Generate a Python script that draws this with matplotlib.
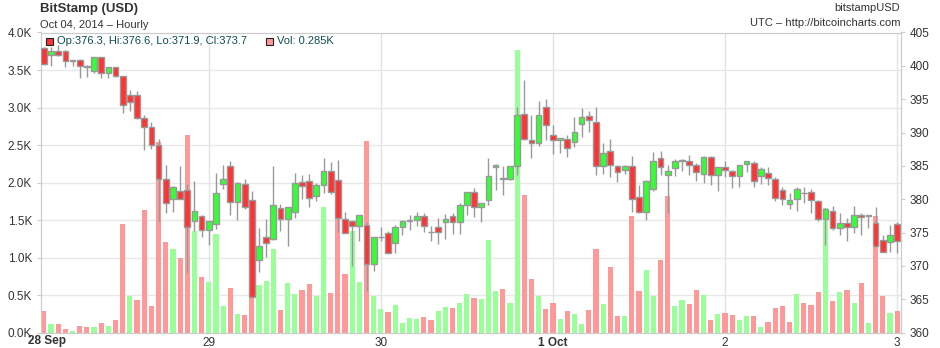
import numpy as np
import matplotlib
matplotlib.use("Agg")
import matplotlib.pyplot as plt
from matplotlib.patches import Rectangle

plt.rcParams['font.family'] = ['Liberation Sans', 'DejaVu Sans']

# hourly candles, 28 Sep 01:00 -> 3 Oct 00:00 (hour index 1..120)
opens = [402.7, 401.7, 402.3, 402.3, 400.8, 400.9, 400.0, 399.2, 401.3, 398.95, 399.8, 398.45,
         395.7, 395.6, 392.2, 390.85, 388.1, 383.0, 380.05, 381.3, 381.45, 376.8, 377.55, 375.45,
         376.3, 382.3, 384.95, 379.6, 382.3, 379.95, 370.95, 374.35, 374.05, 378.7, 377.05, 378.1,
         382.6, 382.8, 380.45, 382.2, 384.3, 382.95, 377.1, 376.7, 376.05, 376.1, 370.3, 374.3,
         374.95, 373.45, 375.85, 376.8, 376.95, 377.55, 375.1, 375.8, 376.6, 377.55, 376.6, 379.1,
         381.05, 378.8, 379.95, 384.85, 383.1, 383.1, 384.95, 392.85, 388.95, 388.45, 393.8, 389.6,
         388.85, 389.05, 388.6, 391.3, 392.55, 391.6, 385.05, 387.3, 385.05, 384.45, 384.95, 380.35,
         378.1, 381.5, 386.2, 383.6, 384.7, 385.7, 385.8, 385.2, 383.85, 386.3, 383.7, 384.8,
         384.3, 383.55, 385.3, 385.45, 383.55, 383.95, 383.1, 381.45, 379.35, 380.05, 380.95, 381.05,
         379.8, 377.05, 378.2, 375.7, 376.45, 375.85, 377.7, 377.5, 376.45, 373.95, 373.6, 376.3]
highs = [402.9, 402.9, 403.2, 402.4, 400.9, 401.0, 400.1, 401.4, 401.4, 399.9, 399.9, 398.5,
         396.4, 396.3, 392.65, 391.6, 389.0, 385.1, 382.0, 385.0, 382.3, 382.7, 377.7, 376.8,
         384.0, 385.1, 385.7, 382.6, 383.0, 381.2, 375.7, 377.05, 384.95, 379.3, 378.9, 383.95,
         383.6, 383.8, 382.5, 386.2, 385.6, 385.95, 378.1, 376.9, 377.7, 376.6, 374.4, 375.8,
         375.2, 376.1, 376.95, 377.7, 378.05, 377.9, 375.95, 377.2, 377.8, 377.95, 379.45, 381.1,
         381.7, 379.5, 386.2, 385.3, 384.95, 385.0, 393.8, 397.85, 392.6, 394.8, 395.05, 391.2,
         389.2, 389.6, 392.3, 393.7, 393.2, 393.8, 388.45, 389.05, 385.2, 385.1, 386.45, 382.1,
         382.85, 387.1, 387.2, 385.2, 386.1, 386.05, 386.6, 385.5, 386.45, 386.45, 384.9, 385.8,
         384.45, 385.2, 385.8, 385.8, 384.8, 384.8, 383.3, 381.8, 380.95, 381.8, 381.8, 381.6,
         379.95, 378.7, 378.95, 377.95, 377.2, 379.0, 377.95, 377.7, 378.8, 374.7, 376.2, 376.6]
lows = [400.2, 400.0, 401.5, 399.8, 400.0, 398.2, 398.3, 399.0, 398.2, 398.2, 398.3, 392.9,
        393.2, 392.0, 387.4, 387.5, 376.6, 378.0, 378.1, 380.0, 369.0, 375.3, 374.4, 373.15,
        375.6, 381.5, 377.7, 376.95, 378.5, 365.3, 369.05, 371.3, 373.9, 375.3, 372.95, 377.2,
        380.0, 378.85, 379.8, 381.0, 380.8, 375.1, 374.9, 370.05, 373.7, 366.2, 369.3, 373.7,
        371.9, 371.95, 374.7, 375.45, 375.95, 375.1, 373.8, 373.3, 374.0, 374.8, 374.8, 377.6,
        377.35, 376.6, 379.2, 381.45, 380.7, 382.9, 383.7, 388.9, 386.2, 387.95, 388.9, 386.85,
        387.0, 386.3, 387.9, 389.4, 390.1, 383.7, 383.8, 383.3, 382.6, 383.8, 378.1, 377.9,
        376.95, 381.3, 383.6, 377.95, 383.5, 384.2, 383.7, 382.7, 382.4, 382.2, 381.2, 383.4,
        381.7, 381.9, 384.1, 381.8, 382.3, 382.1, 379.7, 379.2, 378.6, 378.2, 379.45, 377.95,
        376.8, 373.1, 375.45, 374.7, 373.7, 375.0, 374.7, 375.7, 372.9, 372.1, 372.1, 371.9]
closes = [400.3, 402.3, 401.7, 400.8, 400.85, 400.05, 399.9, 401.3, 398.95, 399.8, 398.45, 394.1,
          394.6, 392.2, 390.85, 388.2, 383.0, 379.45, 381.85, 380.05, 375.8, 378.3, 375.45, 376.7,
          380.95, 383.1, 379.6, 382.45, 378.8, 365.3, 372.95, 373.45, 379.2, 377.05, 378.85, 382.4,
          381.95, 380.2, 382.2, 384.3, 381.1, 377.2, 374.95, 376.05, 377.6, 370.3, 374.3, 374.35,
          371.95, 375.85, 376.7, 376.85, 377.55, 375.95, 375.05, 375.15, 377.05, 376.6, 379.1, 381.05,
          378.8, 379.4, 383.45, 385.15, 383.05, 384.95, 392.7, 389.05, 388.45, 392.7, 391.1, 388.85,
          389.15, 387.7, 390.1, 392.35, 391.95, 385.05, 386.95, 385.2, 384.1, 385.05, 380.05, 378.1,
          382.8, 385.7, 384.8, 384.3, 385.7, 385.95, 385.1, 384.1, 386.3, 383.7, 384.8, 384.45,
          383.55, 385.2, 385.7, 382.7, 384.6, 383.2, 380.2, 380.05, 379.95, 381.6, 380.9, 379.95,
          377.05, 378.6, 375.7, 376.45, 375.85, 377.7, 377.35, 377.55, 372.95, 372.1, 374.7, 373.7]
volumes = [0.29, 0.11, 0.12, 0.05, 0.02, 0.09, 0.08, 0.08, 0.13, 0.09, 0.17, 1.45,
           0.49, 0.44, 1.64, 0.36, 2.54, 1.21, 1.12, 0.99, 2.63, 1.35, 0.74, 0.68,
           1.32, 0.35, 0.60, 0.25, 0.23, 0.60, 0.63, 0.69, 1.12, 0.30, 0.66, 0.52,
           0.57, 0.65, 0.49, 1.68, 0.53, 1.70, 0.78, 1.36, 0.68, 2.55, 0.49, 0.32,
           0.28, 0.37, 0.13, 0.20, 0.18, 0.21, 0.17, 0.29, 0.34, 0.33, 0.40, 0.52,
           0.46, 0.45, 1.23, 0.56, 0.58, 0.40, 3.77, 1.83, 0.72, 0.49, 0.32, 0.40,
           0.18, 0.29, 0.25, 0.12, 0.30, 1.12, 0.38, 0.88, 0.22, 0.22, 1.55, 0.56,
           0.84, 0.49, 0.97, 1.82, 0.36, 0.43, 0.38, 0.57, 0.50, 0.17, 0.25, 0.26,
           0.24, 0.17, 0.22, 0.22, 0.08, 0.14, 0.33, 0.36, 0.14, 0.52, 0.40, 0.37,
           0.54, 1.66, 0.42, 0.54, 0.57, 0.40, 0.66, 0.13, 1.56, 0.49, 0.26, 0.285]

day_ticks = [24, 48, 72, 96, 120]
day_labels = ['29', '30', '1 Oct', '2', '3']

o = np.array(opens)
h = np.array(highs)
l = np.array(lows)
c = np.array(closes)
v = np.array(volumes) * 1000
x = np.arange(1, len(o) + 1)

prev = np.concatenate([[o[0]], c[:-1]])
vol_up = c >= prev
up = c >= o

fig = plt.figure(figsize=(9.4, 3.48), dpi=100)
W, H = 940, 348
ax_v = fig.add_axes([41 / W, (H - 332.7) / H, (900.7 - 41) / W, 300.2 / H])
ax_p = ax_v.twinx()

# volume (left axis)
ax_v.bar(x, v, width=0.72, color=np.where(vol_up, '#99ff99', '#ff9999'), zorder=2)
ax_v.set_ylim(0, 4000)
ax_v.set_yticks(np.arange(0, 4001, 500))
ax_v.set_yticklabels(['%.1fK' % (t / 1000) for t in np.arange(0, 4001, 500)])
ax_v.set_xlim(0.6, 120.5)
for t in np.arange(500, 4001, 500):
    ax_v.axhline(t, color='#e8e8e8', lw=1, zorder=0)
for d in day_ticks:
    ax_v.axvline(d, color='#e3e3e3', lw=1, zorder=0)

# candles (right axis)
ax_p.vlines(x, l, h, color='#999999', lw=1, zorder=3)
body = np.maximum(np.abs(c - o), 0.1)
ax_p.bar(x, body, bottom=np.minimum(o, c), width=0.8,
         color=np.where(up, '#33ff33', '#ff3333'), edgecolor='#999999', linewidth=1, zorder=4)
ax_p.set_ylim(360, 405)
ax_p.set_yticks(np.arange(360, 406, 5))
ax_p.set_xlim(0.6, 120.5)

ax_v.set_xticks(day_ticks)
ax_v.set_xticklabels(day_labels)
for lab in ax_v.get_xticklabels():
    if 'Oct' in lab.get_text():
        lab.set_fontweight('bold')

for a in (ax_v, ax_p):
    for s in a.spines.values():
        s.set_color('#cccccc')
    a.tick_params(colors='#333333', labelsize=8.5, length=3, width=0.8)
    a.tick_params(axis='x', length=0, pad=3)
ax_p.tick_params(axis='y', colors='#333333', labelsize=8.5)
ax_v.tick_params(axis='y', color='#cccccc', labelcolor='#333333')
ax_p.tick_params(axis='y', color='#cccccc', labelcolor='#333333')
ax_v.patch.set_facecolor('white')
ax_p.patch.set_visible(False)

fig.text(28 / W, 1 - 341 / H, '28 Sep', fontsize=8.5, fontweight='bold', color='#333333',
         ha='left', va='center')

# header texts
fig.text(40 / W, 1 - 9 / H, 'BitStamp (USD)', fontsize=9.5, fontweight='bold', color='#333333',
         ha='left', va='center')
fig.text(40 / W, 1 - 24.5 / H, 'Oct 04, 2014 \u2013 Hourly', fontsize=8, color='#333333',
         ha='left', va='center')
fig.text(900 / W, 1 - 8 / H, 'bitstampUSD', fontsize=8, color='#333333', ha='right', va='center')
fig.text(900 / W, 1 - 23 / H, 'UTC \u2013 http://bitcoincharts.com', fontsize=8, color='#333333',
         ha='right', va='center')

# legend line
fig.patches.append(Rectangle((46 / W, 1 - 45 / H), 7 / W, 7 / H, transform=fig.transFigure,
                             facecolor='#ff3333', edgecolor='#222222', lw=0.8))
fig.text(57 / W, 1 - 41.5 / H, 'Op:%.1f, Hi:%.1f, Lo:%.1f, Cl:%.1f' % (o[-1], h[-1], l[-1], c[-1]),
         fontsize=8, color='#0d4f4f', ha='left', va='center')
fig.patches.append(Rectangle((266 / W, 1 - 45 / H), 7 / W, 7 / H, transform=fig.transFigure,
                             facecolor='#ff9999', edgecolor='#222222', lw=0.8))
fig.text(277 / W, 1 - 41.5 / H, 'Vol: %.3fK' % (v[-1] / 1000), fontsize=8, color='#0d4f4f',
         ha='left', va='center')

fig.savefig('out.png', dpi=100)
